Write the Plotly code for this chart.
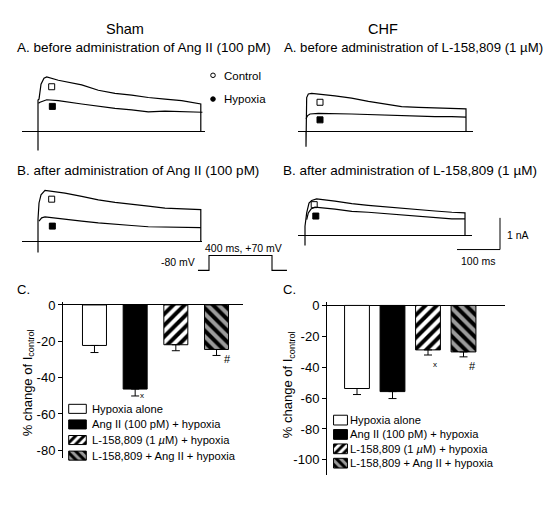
import plotly.graph_objects as go

W, H = 555, 506
FONT = "Liberation Sans, Arial, Helvetica, sans-serif"

# ---------------- data ----------------
conditions = ["Hypoxia alone", "Ang II (100 pM) + hypoxia",
              "L-158,809 (1 <i>µ</i>M) + hypoxia", "L-158,809 + Ang II + hypoxia"]
sham_pct = [-22.3, -46.3, -21.9, -24.5]
sham_sem = [3.9, 3.8, 3.3, 3.3]
chf_pct = [-53.8, -55.8, -28.8, -30.1]
chf_sem = [3.9, 4.5, 3.3, 3.2]
sham_ticks = [0, -20, -40, -60, -80]
chf_ticks = [0, -20, -40, -60, -80, -100]
sham_marks = ["", "x", "", "#"]
chf_marks = ["", "", "x", "#"]

# whole-cell current traces: time (ms), current (nA)
shamA_ctrl_t = [0, 0, 0, 2.5, 7.4, 14.7, 21.4, 49.9, 107.4, 148.2, 189.2, 230.2, 271, 312, 353, 400, 400]
shamA_ctrl_i = [0, -0.59, 1.0, 1.03, 1.5, 1.69, 1.73, 1.625, 1.48, 1.31, 1.21, 1.156, 1.08, 1.03, 0.98, 0.875, 0]
shamA_hyp_t = [1, 4.9, 21.4, 49.9, 107.4, 148.2, 189.2, 230.2, 271, 312, 353, 404]
shamA_hyp_i = [0.9, 0.93, 1.01, 0.98, 0.875, 0.80, 0.74, 0.69, 0.63, 0.65, 0.625, 0.615]

shamB_ctrl_t = [0, 0, 0, 2.5, 7.4, 17.2, 66.3, 107.4, 148.2, 189.2, 230.2, 271, 312, 353, 400, 400]
shamB_ctrl_i = [0, -0.34, 0.70, 1.22, 1.48, 1.62, 1.53, 1.43, 1.32, 1.24, 1.17, 1.12, 1.06, 1.03, 1.01, 0]
shamB_hyp_t = [2.5, 9, 17.2, 66.3, 107.4, 148.2, 189.2, 230.2, 271, 312, 353, 400]
shamB_hyp_i = [0.65, 0.75, 0.78, 0.72, 0.65, 0.59, 0.54, 0.51, 0.47, 0.46, 0.44, 0.44]

chfA_ctrl_t = [0, 0, 0, 1.7, 5.8, 14.2, 72.5, 114, 156, 197.5, 239, 281, 322.5, 364, 400, 400]
chfA_ctrl_i = [0, -0.47, 0.875, 1.08, 1.19, 1.21, 1.13, 1.06, 0.96, 0.875, 0.79, 0.77, 0.75, 0.74, 0.72, 0]
chfA_hyp_t = [0, 4.2, 10, 31, 114, 156, 197.5, 239, 281, 322.5, 364, 400]
chfA_hyp_i = [0.41, 0.51, 0.56, 0.58, 0.56, 0.54, 0.53, 0.51, 0.49, 0.48, 0.48, 0.46]

chfB_ctrl_t = [0, 0, 0, 4.2, 10, 16.7, 29, 75, 117, 158, 200, 242, 283, 325, 367, 400, 400]
chfB_ctrl_i = [0, -0.31, 0.30, 0.72, 1.03, 1.11, 1.16, 1.09, 1.01, 0.96, 0.91, 0.87, 0.82, 0.78, 0.74, 0.72, 0]
chfB_hyp_t = [4.2, 8.3, 15, 25, 75, 117, 158, 200, 242, 283, 325, 367, 400]
chfB_hyp_i = [0.51, 0.72, 0.84, 0.90, 0.84, 0.77, 0.74, 0.70, 0.66, 0.62, 0.57, 0.53, 0.53]

# symbols marking the traces (time ms, current nA): control (open), hypoxia (filled)
shamA_sym_t = [33.6, 35.2]; shamA_sym_i = [1.42, 0.80]
shamB_sym_t = [33.6, 35.2]; shamB_sym_i = [1.34, 0.49]
chfA_sym_t = [35, 35];      chfA_sym_i = [0.93, 0.375]
chfB_sym_t = [23, 27];      chfB_sym_i = [0.98, 0.62]

# voltage protocol (ms, mV)
protocol_t = [-70, 0, 0, 400, 400, 495]
protocol_v = [-80, -80, 70, 70, -80, -80]

# ---------------- styles ----------------
bar_colors = ["white", "black", "white", "#9b9b9b"]
bar_patterns = ["", "", "/", "\\"]
swatch_len = [1]


def X(px):
    return px / W


def Y(py):
    return 1 - py / H


def bar_marker(i, psize):
    m = dict(color=bar_colors[i], line=dict(color="black", width=1))
    if bar_patterns[i]:
        m["pattern"] = dict(shape=bar_patterns[i], fillmode="replace", bgcolor=bar_colors[i],
                            fgcolor="black", fgopacity=1, size=psize, solidity=0.5)
    return m


fig = go.Figure()
layout = dict(width=W, height=H, margin=dict(l=0, r=0, t=0, b=0),
              paper_bgcolor="white", plot_bgcolor="rgba(0,0,0,0)",
              showlegend=False, font=dict(family=FONT, color="black"),
              annotations=[], shapes=[])

SY = 32.0  # px per nA
panels = [
    ("", 38, 128, 0.407, 22, 205, 62, 150,
     (shamA_ctrl_t, shamA_ctrl_i, shamA_hyp_t, shamA_hyp_i, shamA_sym_t, shamA_sym_i)),
    ("2", 306, 128, 0.400, 298, 473, 62, 150,
     (chfA_ctrl_t, chfA_ctrl_i, chfA_hyp_t, chfA_hyp_i, chfA_sym_t, chfA_sym_i)),
    ("3", 38, 239, 0.407, 22, 202, 176, 256,
     (shamB_ctrl_t, shamB_ctrl_i, shamB_hyp_t, shamB_hyp_i, shamB_sym_t, shamB_sym_i)),
    ("4", 305, 233, 0.400, 298, 472, 176, 250,
     (chfB_ctrl_t, chfB_ctrl_i, chfB_hyp_t, chfB_hyp_i, chfB_sym_t, chfB_sym_i)),
]
hidden = dict(showgrid=False, showticklabels=False, ticks="", showline=False, fixedrange=True)
for n, ox, oy, sx, x0, x1, yt, yb, d in panels:
    ct, ci, ht, hi, st, si = d
    layout["xaxis" + n] = dict(domain=[X(x0), X(x1)], range=[(x0 - ox) / sx, (x1 - ox) / sx],
                               anchor="y" + n, zeroline=False, **hidden)
    layout["yaxis" + n] = dict(domain=[Y(yb), Y(yt)], range=[(oy - yb) / SY, (oy - yt) / SY],
                               anchor="x" + n, zeroline=True, zerolinecolor="black",
                               zerolinewidth=1, **hidden)
    for tt, ii in ((ct, ci), (ht, hi)):
        fig.add_trace(go.Scatter(x=tt, y=ii, mode="lines", xaxis="x" + n, yaxis="y" + n,
                                 line=dict(color="black", width=1.2), hoverinfo="skip"))
    fig.add_trace(go.Scatter(x=st, y=si, mode="markers", xaxis="x" + n, yaxis="y" + n,
                             marker=dict(symbol=["square-open", "square"], size=6, color="black",
                                         line=dict(width=1, color="black"))))

# voltage protocol axis
pox, poy, psx, psy = 209, 260, 0.1575, 0.1
layout["xaxis5"] = dict(domain=[X(194), X(292)], range=[(194 - pox) / psx, (292 - pox) / psx],
                        anchor="y5", zeroline=False, **hidden)
layout["yaxis5"] = dict(domain=[Y(274), Y(248)], range=[(poy - 274) / psy, (poy - 248) / psy],
                        anchor="x5", zeroline=False, **hidden)
fig.add_trace(go.Scatter(x=protocol_t, y=protocol_v, mode="lines", xaxis="x5", yaxis="y5",
                         line=dict(color="black", width=1.1)))

# bar charts
bar_axes = [
    ("6", sham_pct, sham_sem, sham_ticks, sham_marks, 63, 243, 300, 458, [-0.774, 3.651], [-84.5, 1.6], 0.59),
    ("7", chf_pct, chf_sem, chf_ticks, chf_marks, 327, 505, 300, 475, [-0.845, 4.169], [-110, 2.2], 0.70),
]
for n, vals, sem, ticks, marks, x0, x1, yt, yb, xr, yr, bw in bar_axes:
    layout["xaxis" + n] = dict(domain=[X(x0), X(x1)], range=xr, anchor="y" + n, visible=False,
                               fixedrange=True)
    layout["yaxis" + n] = dict(domain=[Y(yb), Y(yt)], range=yr, anchor="x" + n,
                               showline=True, linecolor="black", linewidth=1, showgrid=False,
                               zeroline=True, zerolinecolor="black", zerolinewidth=1,
                               ticks="outside", ticklen=4, tickwidth=1, tickcolor="black",
                               tickvals=ticks, ticktext=[str(t) for t in ticks],
                               tickfont=dict(size=13, family=FONT, color="black"),
                               layer="above traces", fixedrange=True)
    for i in range(len(vals)):
        fig.add_trace(go.Bar(x=[i], y=[vals[i]], width=bw, xaxis="x" + n, yaxis="y" + n,
                             marker=bar_marker(i, 8),
                             error_y=dict(type="data", symmetric=False, array=[0],
                                          arrayminus=[sem[i]], color="black", thickness=1, width=4)))

# significance marks
mark_pos = {("6", "x"): (7, 0), ("6", "#"): (10.5, -4), ("7", "x"): (6.5, -9), ("7", "#"): (8.5, -9)}
for n, vals, sem, ticks, marks, *_ in bar_axes:
    for i, m in enumerate(marks):
        if m:
            dx, dy = mark_pos[(n, m)]
            layout["annotations"].append(dict(
                x=i, y=vals[i] - sem[i], xref="x" + n, yref="y" + n, text=m, showarrow=False,
                xshift=dx, yshift=dy, font=dict(size=8 if m == "x" else 11, family=FONT)))

# legend swatches (mini horizontal bars) + text
legends = [("8", 68, 87, 400, 463, 0.58, 92), ("9", 333, 348, 412, 470, 0.68, 350)]
for n, x0, x1, yt, yb, bw, tx in legends:
    layout["xaxis" + n] = dict(domain=[X(x0), X(x1)], range=[-0.04, 1.04], anchor="y" + n,
                               visible=False, fixedrange=True)
    layout["yaxis" + n] = dict(domain=[Y(yb), Y(yt)], range=[3.5, -0.5], anchor="x" + n,
                               visible=False, fixedrange=True)
    for i, c in enumerate(conditions):
        fig.add_trace(go.Bar(y=[i], x=swatch_len, orientation="h", width=bw,
                             xaxis="x" + n, yaxis="y" + n, marker=bar_marker(i, 6)))
        layout["annotations"].append(dict(
            x=X(tx - 2), y=i, xref="paper", yref="y" + n, text=c, showarrow=False,
            xanchor="left", yanchor="middle", font=dict(size=11.2, family=FONT)))


def txt(s, px, py, size, anchor="left", angle=0):
    shift = {"left": -2, "right": 2, "center": 0}[anchor]
    layout["annotations"].append(dict(
        x=X(px + shift), y=Y(py), xref="paper", yref="paper", text=s, showarrow=False,
        xanchor=anchor, yanchor="middle", textangle=angle, font=dict(size=size, family=FONT)))


txt("Sham", 125, 24, 14.5, "center")
txt("CHF", 383, 24, 14.5, "center")
txt("A. before administration of Ang II (100 pM)", 17, 43, 13.5)
txt("A. before administration of L-158,809 (1 µM)", 284, 43, 13.2)
txt("B. after administration of Ang II (100 pM)", 17, 167, 13.5)
txt("B. after administration of L-158,809 (1 µM)", 283, 167, 13.5)
txt("C.", 17, 287, 13)
txt("C.", 283, 287, 13)
txt("Control", 224, 72, 11.5)
txt("Hypoxia", 224, 95, 11.5)
txt("400 ms, +70 mV", 243, 245, 10.5, "center")
txt("-80 mV", 195, 260, 10.5, "right")
txt("1 nA", 507, 232, 10.5)
txt("100 ms", 478, 259, 10.5, "center")
txt("% change of I<sub>control</sub>", 28, 382, 13, "center", -90)
txt("% change of I<sub>control</sub>", 288, 384, 13, "center", -90)

# legend circles
for py, fill in ((71, "white"), (95, "black")):
    layout["shapes"].append(dict(type="circle", xref="paper", yref="paper",
                                 x0=X(210.7), x1=X(215.3), y0=Y(py + 2.3), y1=Y(py - 2.3),
                                 line=dict(color="black", width=1), fillcolor=fill))
# scale bars
layout["shapes"].append(dict(type="line", xref="paper", yref="paper", x0=X(500), x1=X(500),
                             y0=Y(215), y1=Y(247), line=dict(color="black", width=1)))
layout["shapes"].append(dict(type="line", xref="paper", yref="paper", x0=X(457), x1=X(500),
                             y0=Y(247), y1=Y(247), line=dict(color="black", width=1)))

fig.update_layout(**layout)
fig.write_html("out.html", config={"displayModeBar": False, "staticPlot": True},
               post_script="document.body.style.margin='0';document.body.style.overflow='hidden';")
